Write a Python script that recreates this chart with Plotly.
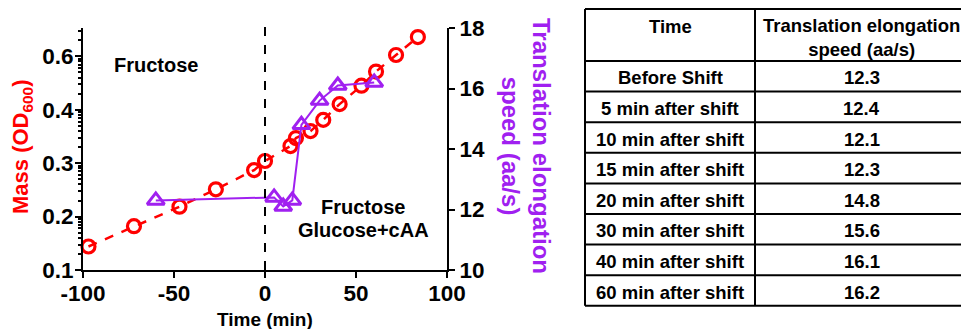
import numpy as np
import plotly.graph_objects as go

# ---------------- data ----------------
mass_time = [-97, -72, -47, -27, -6, 0, 14, 17, 25, 32, 41, 53, 61, 72, 84]
mass_od = [0.144, 0.182, 0.2185, 0.251, 0.287, 0.304, 0.332, 0.347, 0.360,
           0.381, 0.421, 0.490, 0.543, 0.605, 0.672]

speed_time = [-60, 5, 10, 15, 20, 30, 40, 60]
speed_aa = [12.3, 12.4, 12.1, 12.3, 14.8, 15.6, 16.1, 16.2]

table_header = ["Time", "Translation elongation<br>speed (aa/s)"]
table_rows = ["Before Shift", "5 min after shift", "10 min after shift",
              "15 min after shift", "20 min after shift", "30 min after shift",
              "40 min after shift", "60 min after shift"]

x_ticks = [-100, -50, 0, 50, 100]
od_tick_labels = [0.1, 0.2, 0.3, 0.4, 0.6]
speed_ticks = [10, 12, 14, 16, 18]

# ---------------- style / geometry ----------------
RED = "#ff0000"
PURPLE = "#a020f0"
FONT = "Arial, 'Liberation Sans', sans-serif"
W, H = 969, 329
OFF = 8  # page body margin offset of the figure inside the window


def px(x):
    return (x - OFF) / W


def py(y):
    return 1 - (y - OFF) / H


def od_scale(v):
    """Map OD values onto the chart's segmented axis (equal spacing between labels)."""
    v = np.asarray(v, dtype=float)
    lab = np.asarray(od_tick_labels)
    idx = np.arange(len(lab), dtype=float)
    out = np.interp(v, lab, idx)
    hi = v > lab[-1]
    out[hi] = idx[-1] + (v[hi] - lab[-1]) / (lab[-1] - lab[-2])
    return out


minor_vals = [k + np.log10(m) for k in range(len(od_tick_labels)) for m in range(2, 10)]
minor_vals = [m for m in minor_vals if m < 4.53]

fig = go.Figure()

fig.add_trace(go.Scatter(
    x=mass_time, y=od_scale(mass_od), mode="lines+markers",
    line=dict(color=RED, width=2.5, dash="dash"),
    marker=dict(symbol="circle-open", size=13, color=RED, line=dict(width=3.2, color=RED)),
    showlegend=False, xaxis="x", yaxis="y", cliponaxis=False))

fig.add_trace(go.Scatter(
    x=speed_time, y=speed_aa, mode="lines+markers",
    line=dict(color=PURPLE, width=2),
    marker=dict(symbol="triangle-up-open", size=15, color=PURPLE, line=dict(width=3, color=PURPLE)),
    showlegend=False, xaxis="x", yaxis="y2", cliponaxis=False))

tickfont = dict(family=FONT, size=22.5, color="black")
axis_common = dict(showline=True, linecolor="black", linewidth=2, ticks="outside",
                   ticklen=6, tickwidth=2, tickcolor="black", showgrid=False, zeroline=False,
                   automargin=False, tickfont=tickfont)

# ---------------- table on its own (hidden) axes ----------------
COLW = [170, 213]
HEAD_H = 52
ROW_H = 30.6
tab_w = sum(COLW)
tab_h = HEAD_H + ROW_H * len(table_rows)
PAD = 2
x_edges = [0, COLW[0], tab_w]
y_edges = [0, HEAD_H] + [HEAD_H + ROW_H * (i + 1) for i in range(len(table_rows))]

shapes = []
for xe in x_edges:
    shapes.append(dict(type="line", xref="x3", yref="y3", x0=xe, x1=xe, y0=0, y1=tab_h,
                       line=dict(color="black", width=2)))
for ye in y_edges:
    shapes.append(dict(type="line", xref="x3", yref="y3", x0=0, x1=tab_w, y0=ye, y1=ye,
                       line=dict(color="black", width=2)))

# dashed shift line at t = 0
shapes.append(dict(type="line", xref="x", yref="paper", x0=0, x1=0,
                   y0=py(270), y1=py(20), line=dict(color="black", width=2, dash="dash")))

tfont = dict(family=FONT, size=18.5, color="black")
annotations = []
col_centers = [COLW[0] / 2, COLW[0] + COLW[1] / 2]
annotations.append(dict(text=f"<b>{table_header[0]}</b>", x=col_centers[0], y=17,
                        xref="x3", yref="y3", xanchor="center", yanchor="middle",
                        showarrow=False, font=tfont))
annotations.append(dict(text=f"<b>{table_header[1]}</b>", x=col_centers[1], y=28,
                        xref="x3", yref="y3", xanchor="center", yanchor="middle",
                        showarrow=False, font=tfont))
for i, (r, v) in enumerate(zip(table_rows, speed_aa)):
    yc = HEAD_H + ROW_H * (i + 0.5) + 1.5
    annotations.append(dict(text=f"<b>{r}</b>", x=col_centers[0], y=yc, xref="x3", yref="y3",
                            xanchor="center", yanchor="middle", showarrow=False, font=tfont))
    annotations.append(dict(text=f"<b>{v:.1f}</b>", x=col_centers[1], y=yc, xref="x3", yref="y3",
                            xanchor="center", yanchor="middle", showarrow=False, font=tfont))

# ---------------- chart texts ----------------
annotations += [
    dict(text="<b>Fructose</b>", x=-60, xref="x", y=py(65), yref="paper",
         xanchor="center", yanchor="middle",
         showarrow=False, font=dict(family=FONT, size=20, color="black")),
    dict(text="<b>Fructose</b>", x=54, xref="x", y=py(207), yref="paper",
         xanchor="center", yanchor="middle",
         showarrow=False, font=dict(family=FONT, size=20, color="black")),
    dict(text="<b>Glucose+cAA</b>", x=54, xref="x", y=py(230), yref="paper",
         xanchor="center", yanchor="middle",
         showarrow=False, font=dict(family=FONT, size=20, color="black")),
    dict(text="<b>Mass (OD<sub>600</sub>)</b>", x=px(22), y=py(147),
         xref="paper", yref="paper", textangle=-90, showarrow=False,
         xanchor="center", yanchor="middle",
         font=dict(family=FONT, size=22, color=RED)),
    dict(text="<b>Translation elongation<br>speed (aa/s)</b>", x=px(526), y=py(146),
         xref="paper", yref="paper", textangle=90, showarrow=False,
         xanchor="center", yanchor="middle",
         font=dict(family=FONT, size=24, color=PURPLE)),
    dict(text="<b>Time (min)</b>", x=0, xref="x", y=py(319), yref="paper",
         xanchor="center", yanchor="middle",
         showarrow=False, font=dict(family=FONT, size=19, color="black")),
]

fig.update_layout(
    template="none",
    width=W, height=H, margin=dict(l=0, r=0, t=0, b=0, autoexpand=False),
    paper_bgcolor="white", plot_bgcolor="rgba(0,0,0,0)",
    xaxis=dict(domain=[px(83), px(447)], range=[-100, 100], tickmode="array",
               tickvals=x_ticks, ticktext=[f"<b>{v}</b>" for v in x_ticks],
               ticklabelstandoff=-4, anchor="y", **axis_common),
    yaxis=dict(domain=[py(270), py(28)], range=[0, 4.53], tickmode="array",
               tickvals=list(range(len(od_tick_labels))),
               ticktext=[f"<b>{v:g}</b>" for v in od_tick_labels],
               minor=dict(tickmode="array", tickvals=minor_vals, ticks="outside",
                          ticklen=3, tickwidth=1.5, tickcolor="black"),
               ticklabelstandoff=-3, anchor="x", **axis_common),
    yaxis2=dict(domain=[py(270), py(28)], range=[10, 18], tickmode="array",
                tickvals=speed_ticks, ticktext=[f"<b>{v}</b>" for v in speed_ticks],
                overlaying="y", side="right", anchor="x", **axis_common),
    xaxis3=dict(domain=[px(585 - PAD), px(968 + PAD)], range=[-PAD, tab_w + PAD],
                visible=False, anchor="y3", automargin=False),
    yaxis3=dict(domain=[py(9 + tab_h + PAD), py(9 - 1)], range=[tab_h + PAD, -1],
                visible=False, anchor="x3", automargin=False),
    shapes=shapes,
    annotations=annotations,
)

fig.write_html("out.html")
